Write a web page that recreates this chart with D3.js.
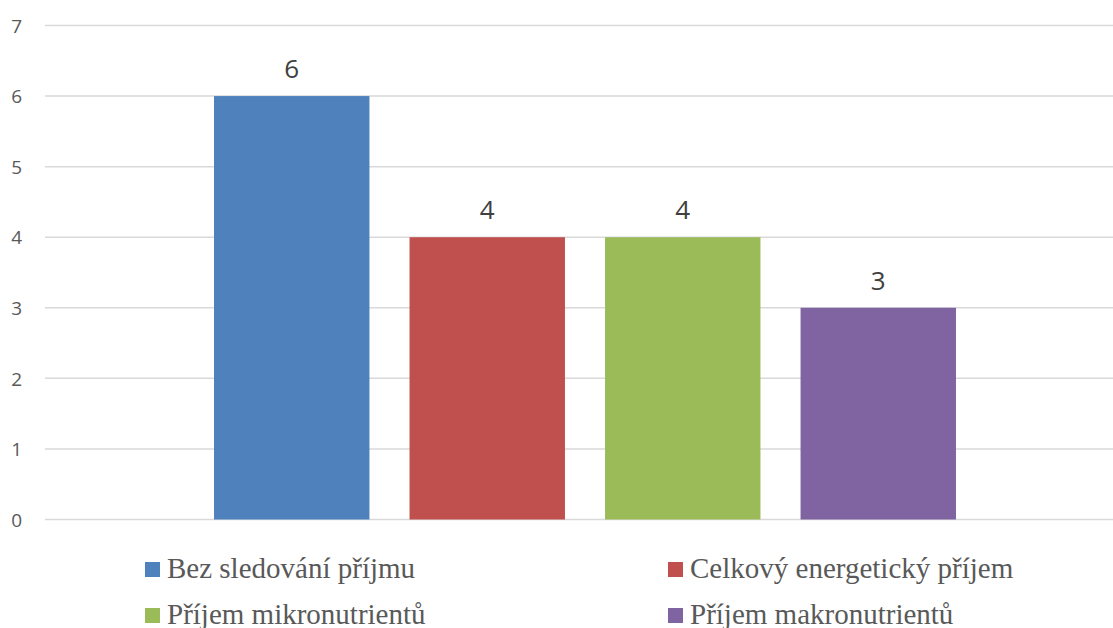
<!DOCTYPE html>
<html>
<head>
<meta charset="utf-8">
<script src="https://cdn.jsdelivr.net/npm/d3@7"></script>
<style>
html,body{margin:0;padding:0;background:#fff;}
svg{display:block;}
</style>
</head>
<body>
<svg id="chart" width="1113" height="628"></svg>
<script>
const categories = ["Kategorie"];
const seriesNames = ["Bez sledování příjmu", "Celkový energetický příjem", "Příjem mikronutrientů", "Příjem makronutrientů"];
const seriesValues = [6, 4, 4, 3];
const seriesColors = ["#4f81bd", "#c0504d", "#9bbb59", "#8064a2"];
const yTicks = [0, 1, 2, 3, 4, 5, 6, 7];

const svg = d3.select("#chart");
const plotLeft = 45, plotRight = 1125, plotTop = 25.5, plotBottom = 519.5;

const y = d3.scaleLinear().domain([0, 7]).range([plotBottom, plotTop]);
const x0 = d3.scaleBand().domain(categories).range([plotLeft, plotRight]).paddingInner(0).paddingOuter(0.2278);
const x1 = d3.scaleBand().domain(seriesNames).range([0, x0.bandwidth()]).paddingInner(0.205).paddingOuter(0);
const color = d3.scaleOrdinal().domain(seriesNames).range(seriesColors);

// gridlines
svg.append("g").selectAll("line").data(yTicks).join("line")
  .attr("x1", plotLeft).attr("x2", 1113)
  .attr("y1", d => y(d)).attr("y2", d => y(d))
  .attr("stroke", "#d9d9d9").attr("stroke-width", 1.5);

// y axis labels
const yAxis = d3.axisLeft(y).tickValues(yTicks).tickFormat(d3.format("d")).tickSize(0).tickPadding(0);
const yg = svg.append("g").attr("transform", "translate(22,0)").call(yAxis);
yg.select(".domain").remove();
yg.selectAll("text").attr("font-family", "'Open Sans', sans-serif").attr("font-size", 19).attr("fill", "#595959").attr("dy", "0.35em");

// bars
const data = seriesNames.map((s, i) => ({cat: categories[0], name: s, value: seriesValues[i]}));
const g = svg.append("g");
g.selectAll("rect").data(data).join("rect")
  .attr("x", d => x0(d.cat) + x1(d.name))
  .attr("y", d => y(d.value))
  .attr("width", x1.bandwidth())
  .attr("height", d => y(0) - y(d.value))
  .attr("fill", d => color(d.name));

g.selectAll("text.val").data(data).join("text").attr("class", "val")
  .attr("x", d => x0(d.cat) + x1(d.name) + x1.bandwidth() / 2)
  .attr("y", d => y(d.value) - 18)
  .attr("text-anchor", "middle")
  .attr("font-family", "'Open Sans', sans-serif")
  .attr("font-size", 26)
  .attr("fill", "#404040")
  .text(d => d.value);

// legend
const legendPos = [[145, 578], [668, 578], [145, 624], [668, 624]];
const lg = svg.append("g").selectAll("g").data(seriesNames).join("g")
  .attr("transform", (d, i) => `translate(${legendPos[i][0]},${legendPos[i][1]})`);
lg.append("rect").attr("x", 0).attr("y", -16).attr("width", 15).attr("height", 15).attr("fill", d => color(d));
lg.append("text").attr("x", 22).attr("y", 0)
  .attr("font-family", "'Liberation Serif', 'Times New Roman', serif")
  .attr("font-size", 29).attr("fill", "#595959").text(d => d);
</script>
</body>
</html>
